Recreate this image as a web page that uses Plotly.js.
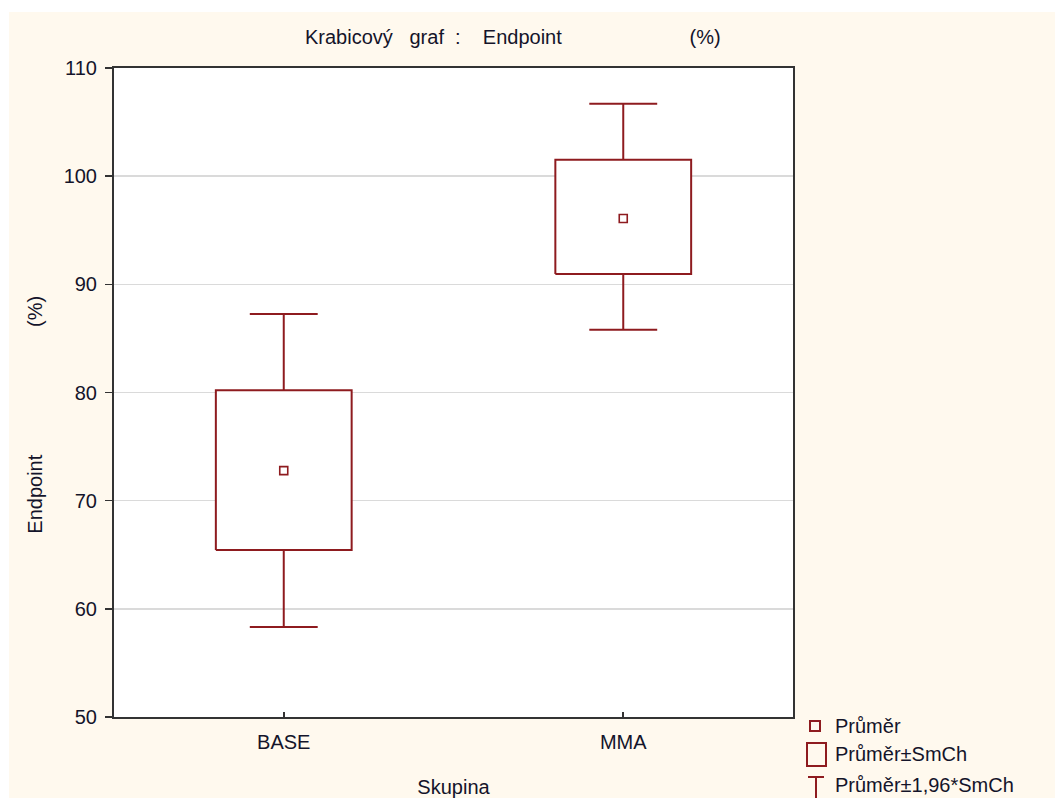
<!DOCTYPE html>
<html>
<head>
<meta charset="utf-8">
<script src="https://cdn.plot.ly/plotly-3.0.1.min.js"></script>
<style>
  html, body { margin: 0; padding: 0; background: #ffffff; }
  #bg { position: absolute; left: 9px; top: 12px; width: 1046px; height: 786px; background: #fff9ee; }
  #chart { position: absolute; left: 0; top: 0; width: 1055px; height: 798px; }
</style>
</head>
<body>
<div id="bg"></div>
<div id="chart"></div>
<script>
// ---- data ----
const categories = ['BASE', 'MMA'];
const means      = [72.78, 96.08];   // Průměr
const boxLow     = [65.43, 90.95];   // Průměr - SmCh
const boxHigh    = [80.21, 101.51];  // Průměr + SmCh
const whiskLow   = [58.33, 85.80];   // Průměr - 1,96*SmCh
const whiskHigh  = [87.25, 106.69];  // Průměr + 1,96*SmCh
const yTicks     = [50, 60, 70, 80, 90, 100, 110];
const legendLabels = ['Průměr', 'Průměr±SmCh', 'Průměr±1,96*SmCh'];

const RED = '#8e1b1f';
const FONT = 'Liberation Sans, Arial, sans-serif';
const TXT = '#14142a';
const FS = 20;
const nb = n => '\u00a0'.repeat(n);

// build geometry from data (x is category index)
const boxHalf = 0.2, capHalf = 0.1;
const bx = [], by = [];
const wx = [], wy = [];
categories.forEach((c, i) => {
  bx.push(i - boxHalf, i + boxHalf, i + boxHalf, i - boxHalf, i - boxHalf, null);
  by.push(boxLow[i], boxLow[i], boxHigh[i], boxHigh[i], boxLow[i], null);
  wx.push(i, i, null, i - capHalf, i + capHalf, null);
  wy.push(boxHigh[i], whiskHigh[i], null, whiskHigh[i], whiskHigh[i], null);
  wx.push(i, i, null, i - capHalf, i + capHalf, null);
  wy.push(boxLow[i], whiskLow[i], null, whiskLow[i], whiskLow[i], null);
});

const traces = [
  { x: wx, y: wy, type: 'scatter', mode: 'lines', line: { color: RED, width: 2 },
    hoverinfo: 'skip', showlegend: false },
  { x: bx, y: by, type: 'scatter', mode: 'lines', fill: 'toself', fillcolor: '#ffffff',
    line: { color: RED, width: 2 }, hoverinfo: 'skip', showlegend: false },
  { x: categories.map((c, i) => i), y: means, type: 'scatter', mode: 'markers',
    marker: { symbol: 'square-open', size: 8, color: RED, line: { color: RED, width: 1.6 } },
    showlegend: false }
];

// legend drawn manually (paper coords relative to plot area)
const L = 114, R = 793, T = 68, B = 717;
const px = v => (v - L) / (R - L);
const py = v => (B - v) / (B - T);
const shapes = [
  { type: 'rect', xref: 'paper', yref: 'paper', x0: px(810), x1: px(820), y0: py(721), y1: py(731),
    line: { color: RED, width: 2 } },
  { type: 'rect', xref: 'paper', yref: 'paper', x0: px(807), x1: px(826), y0: py(743), y1: py(766),
    line: { color: RED, width: 2 } },
  { type: 'line', xref: 'paper', yref: 'paper', x0: px(808), x1: px(824), y0: py(777), y1: py(777),
    line: { color: RED, width: 2 } },
  { type: 'line', xref: 'paper', yref: 'paper', x0: px(816), x1: px(816), y0: py(777), y1: py(800),
    line: { color: RED, width: 2 } }
];
const legendY = [726, 754, 785];
const annotations = legendLabels.map((t, k) => ({
  text: t, xref: 'paper', yref: 'paper', x: px(833), y: py(legendY[k]),
  xanchor: 'left', yanchor: 'middle', showarrow: false,
  font: { family: FONT, size: FS, color: TXT }
}));

const pad = n => '<span style="color:rgba(0,0,0,0)">' + nb(n) + '.</span>';

const layout = {
  width: 1055, height: 798,
  margin: { l: L, r: 1055 - R, t: T, b: 798 - B, pad: 0 },
  paper_bgcolor: 'rgba(0,0,0,0)',
  plot_bgcolor: '#ffffff',
  showlegend: false,
  font: { family: FONT, size: FS, color: TXT },
  title: {
    text: 'Krabicový' + nb(3) + 'graf' + nb(2) + ':' + nb(4) + 'Endpoint' + nb(23) + '(%)',
    x: 305 / 1055, xref: 'container', xanchor: 'left',
    y: 1 - 37 / 798, yref: 'container', yanchor: 'middle',
    font: { family: FONT, size: FS, color: TXT }
  },
  xaxis: {
    range: [-0.5, 1.5], tickmode: 'array', tickvals: categories.map((c, i) => i), ticktext: categories,
    ticks: 'inside', ticklen: 5, tickwidth: 2, tickcolor: '#333', ticklabelstandoff: 6,
    showline: true, mirror: true, linecolor: '#333', linewidth: 2,
    showgrid: false, zeroline: false, fixedrange: true,
    tickfont: { family: FONT, size: FS, color: TXT },
    title: { text: 'Skupina', standoff: 30, font: { family: FONT, size: FS, color: TXT } }
  },
  yaxis: {
    range: [50, 110], tickmode: 'array', tickvals: yTicks,
    ticks: 'outside', ticklen: 7, tickwidth: 1.5, tickcolor: '#333', ticklabelstandoff: 4,
    showline: true, mirror: true, linecolor: '#333', linewidth: 2,
    showgrid: true, gridcolor: '#dadada', gridwidth: 1.5, zeroline: false, fixedrange: true,
    tickfont: { family: FONT, size: FS, color: TXT },
    title: { text: 'Endpoint' + nb(23) + '(%)' + pad(7), standoff: 16,
             font: { family: FONT, size: FS, color: TXT } }
  },
  shapes: shapes,
  annotations: annotations
};

Plotly.newPlot('chart', traces, layout, { staticPlot: true, displayModeBar: false });
</script>
</body>
</html>
